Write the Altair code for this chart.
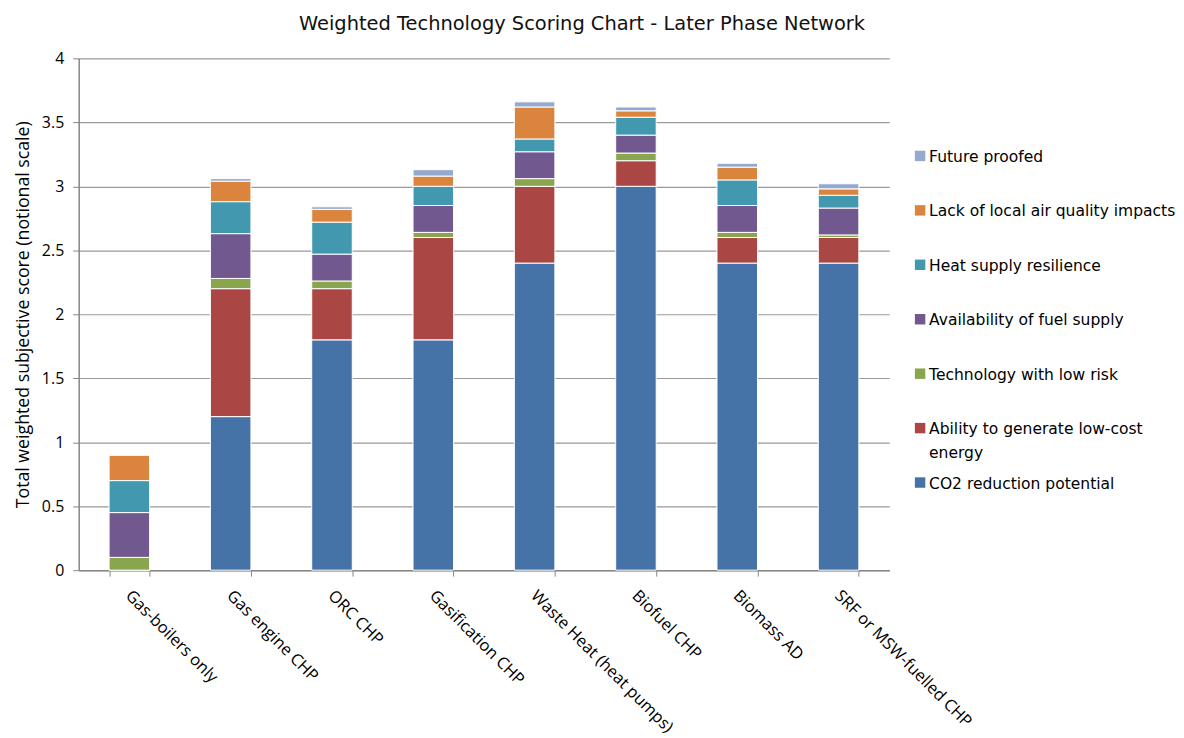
import altair as alt
import pandas as pd

categories = ["Gas-boilers only", "Gas engine CHP", "ORC CHP", "Gasification CHP",
              "Waste Heat (heat pumps)", "Biofuel CHP", "Biomass AD", "SRF or MSW-fuelled CHP"]

series_names = ["CO2 reduction potential", "Ability to generate low-cost energy",
                "Technology with low risk", "Availability of fuel supply",
                "Heat supply resilience", "Lack of local air quality impacts", "Future proofed"]
series_labels = ["CO2 reduction potential", "Ability to generate low-cost\nenergy",
                 "Technology with low risk", "Availability of fuel supply",
                 "Heat supply resilience", "Lack of local air quality impacts", "Future proofed"]
series_colors = ["#4572A7", "#AA4643", "#89A54E", "#71588F", "#4198AF", "#DB843D", "#93A9CF"]

co2 = [0.0, 1.2, 1.8, 1.8, 2.4, 3.0, 2.4, 2.4]
low_cost = [0.0, 1.0, 0.4, 0.8, 0.6, 0.2, 0.2, 0.2]
low_risk = [0.1, 0.08, 0.06, 0.04, 0.06, 0.06, 0.04, 0.02]
fuel = [0.35, 0.35, 0.21, 0.21, 0.21, 0.14, 0.21, 0.21]
resilience = [0.25, 0.25, 0.25, 0.15, 0.1, 0.14, 0.2, 0.1]
air_quality = [0.2, 0.16, 0.1, 0.08, 0.25, 0.05, 0.1, 0.05]
future = [0.0, 0.02, 0.02, 0.05, 0.04, 0.03, 0.03, 0.04]

y_ticks = [0, 0.5, 1, 1.5, 2, 2.5, 3, 3.5, 4]

values = [co2, low_cost, low_risk, fuel, resilience, air_quality, future]

rows = []
for si, (name, vals) in enumerate(zip(series_names, values)):
    for c, v in zip(categories, vals):
        rows.append({"Technology": c, "Criterion": name, "Score": v, "order": si})
df = pd.DataFrame(rows)

legend_df = pd.DataFrame({"Criterion": series_names, "label": series_labels})

AXFONT = "Open Sans"
TXFONT = "DejaVu Sans"
legend_domain = list(reversed(series_names))
legend_range = list(reversed(series_colors))
color_scale = alt.Scale(domain=legend_domain, range=legend_range)

bars = alt.Chart(df).mark_bar(stroke="white", strokeWidth=1).encode(
    x=alt.X("Technology:N", sort=categories, title=None,
            scale=alt.Scale(paddingInner=0.6, paddingOuter=0.3),
            axis=alt.Axis(labelAngle=45, labelAlign="left", labelBaseline="top",
                          labelFontSize=16.5, labelColor="#000000", labelFont=AXFONT,
                          tickBand="extent", tickSize=6, tickColor="#868686",
                          domainColor="#868686", domainWidth=1.5, labelPadding=11,
                          labelOffset=4, labelLimit=300, grid=False)),
    y=alt.Y("Score:Q", stack="zero", title="Total weighted subjective score (notional scale)",
            scale=alt.Scale(domain=[0, 4], nice=False),
            axis=alt.Axis(values=y_ticks, format="~g", labelFontSize=16,
                          labelColor="#000000", labelFont=AXFONT, titleFont=AXFONT,
                          titleFontSize=17.8, titleFontWeight="normal", titleColor="#000000",
                          titlePadding=9, tickSize=6, tickColor="#868686",
                          domainColor="#868686", domainWidth=1.5,
                          gridColor="#9a9a9a", gridWidth=1.2, labelPadding=9)),
    color=alt.Color("Criterion:N", scale=color_scale, legend=None),
    order=alt.Order("order:Q", sort="ascending"),
).properties(width=814, height=514)

legend_y = alt.Y("Criterion:N", sort=legend_domain, axis=None,
                 scale=alt.Scale(type="point", range=[98, 426], padding=0))

legend_symbols = alt.Chart(legend_df).mark_square(size=110, opacity=1).encode(
    x=alt.value(19),
    y=legend_y,
    color=alt.Color("Criterion:N", scale=color_scale, legend=None),
)
legend_text = alt.Chart(legend_df).mark_text(
    align="left", baseline="alphabetic", dy=6, font=TXFONT, fontSize=15.6,
    color="#000000", lineBreak="\n", lineHeight=24,
).encode(
    x=alt.value(28),
    y=legend_y,
    text="label:N",
)
legend = alt.layer(legend_symbols, legend_text).properties(width=255, height=514)

chart = alt.hconcat(bars, legend, spacing=12, bounds="flush").properties(
    padding={"left": 6, "top": 4, "right": 0, "bottom": 5},
    title=alt.TitleParams("Weighted Technology Scoring Chart - Later Phase Network",
                          font=TXFONT, fontSize=19.5, fontWeight="normal", color="#111111",
                          anchor="middle", frame="bounds", offset=16, dx=-13),
).configure_view(stroke=None)

chart.save("out.html", embed_options={"renderer": "svg", "actions": False})
